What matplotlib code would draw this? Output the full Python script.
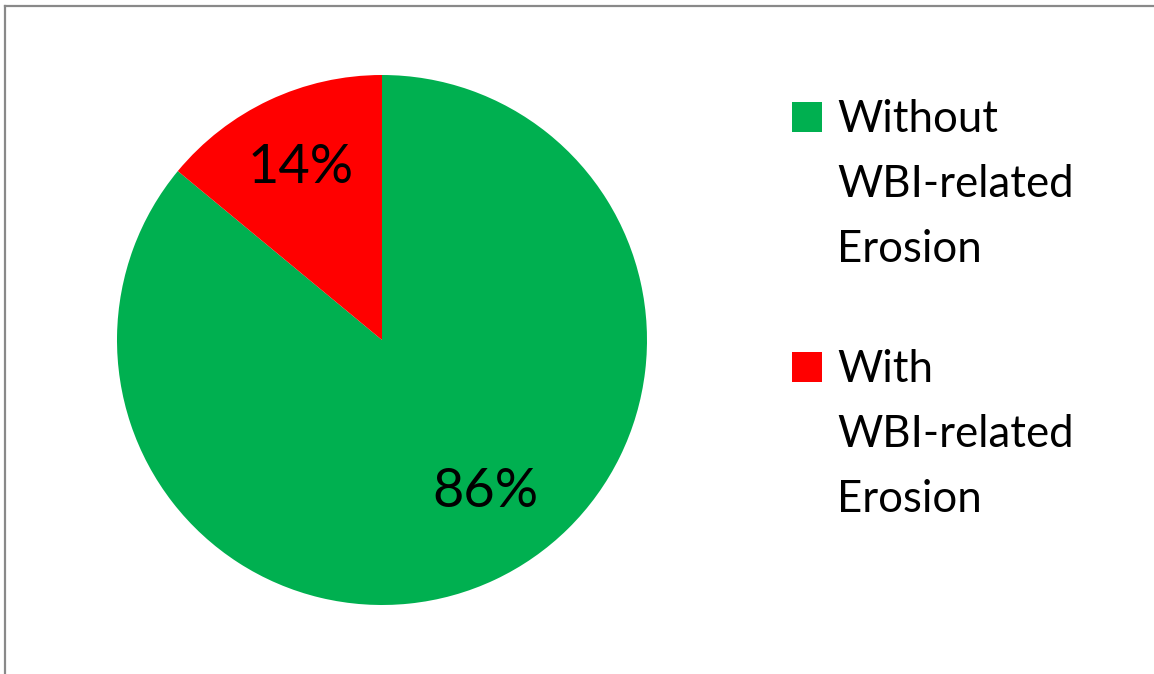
import matplotlib
matplotlib.use("Agg")
import matplotlib.pyplot as plt
from matplotlib.patches import Rectangle
from matplotlib.lines import Line2D

# Share of sites with and without WBI-related erosion
categories = ["Without\nWBI-related\nErosion", "With\nWBI-related\nErosion"]
shares = [86, 14]
colors = ["#00B050", "#FF0000"]

W, H = 1154, 674
fig = plt.figure(figsize=(W / 100, H / 100), dpi=100)
fig.patch.set_facecolor("white")

font = ["Lato", "DejaVu Sans"]

# pie axes: centre (382, 340) px, radius 265 px
cx, cy, r = 382, 340, 265
ax = fig.add_axes([(cx - r) / W, (H - cy - r) / H, 2 * r / W, 2 * r / H])
wedges, texts, autotexts = ax.pie(
    shares, colors=colors, startangle=90, counterclock=False,
    autopct=lambda p: f"{p:.0f}%", pctdistance=0.72, radius=1.0,
    wedgeprops=dict(linewidth=0),
    textprops=dict(fontsize=39, family=font, color="black"),
)
ax.set_xlim(-1, 1)
ax.set_ylim(-1, 1)
ax.set_aspect("equal")
ax.axis("off")
# large-slice label sits a little further round, as in the source chart
autotexts[0].set_position((0.39, -0.57))

# legend drawn as squares with line-by-line labels
entry_top = [132, 382]  # baseline of first line, px from top
line_step = 65
for color, label, base in zip(colors, categories, entry_top):
    fig.patches.append(Rectangle((792 / W, (H - base) / H), 30 / W, 30 / H,
                                 transform=fig.transFigure, facecolor=color,
                                 edgecolor="none"))
    for i, line in enumerate(label.split("\n")):
        fig.text(837 / W, (H - base - i * line_step) / H, line,
                 fontsize=31.5, family=font, color="black",
                 ha="left", va="baseline")

# chart-area frame (top and left edges visible)
frame_col = "#898989"
fig.add_artist(Line2D([4.5 / W, 1.0], [(H - 5.5) / H] * 2,
                      transform=fig.transFigure, color=frame_col, lw=1.6))
fig.add_artist(Line2D([4.5 / W] * 2, [0, (H - 5.5) / H],
                      transform=fig.transFigure, color=frame_col, lw=1.6))

fig.savefig("out.png", dpi=100, facecolor="white")
